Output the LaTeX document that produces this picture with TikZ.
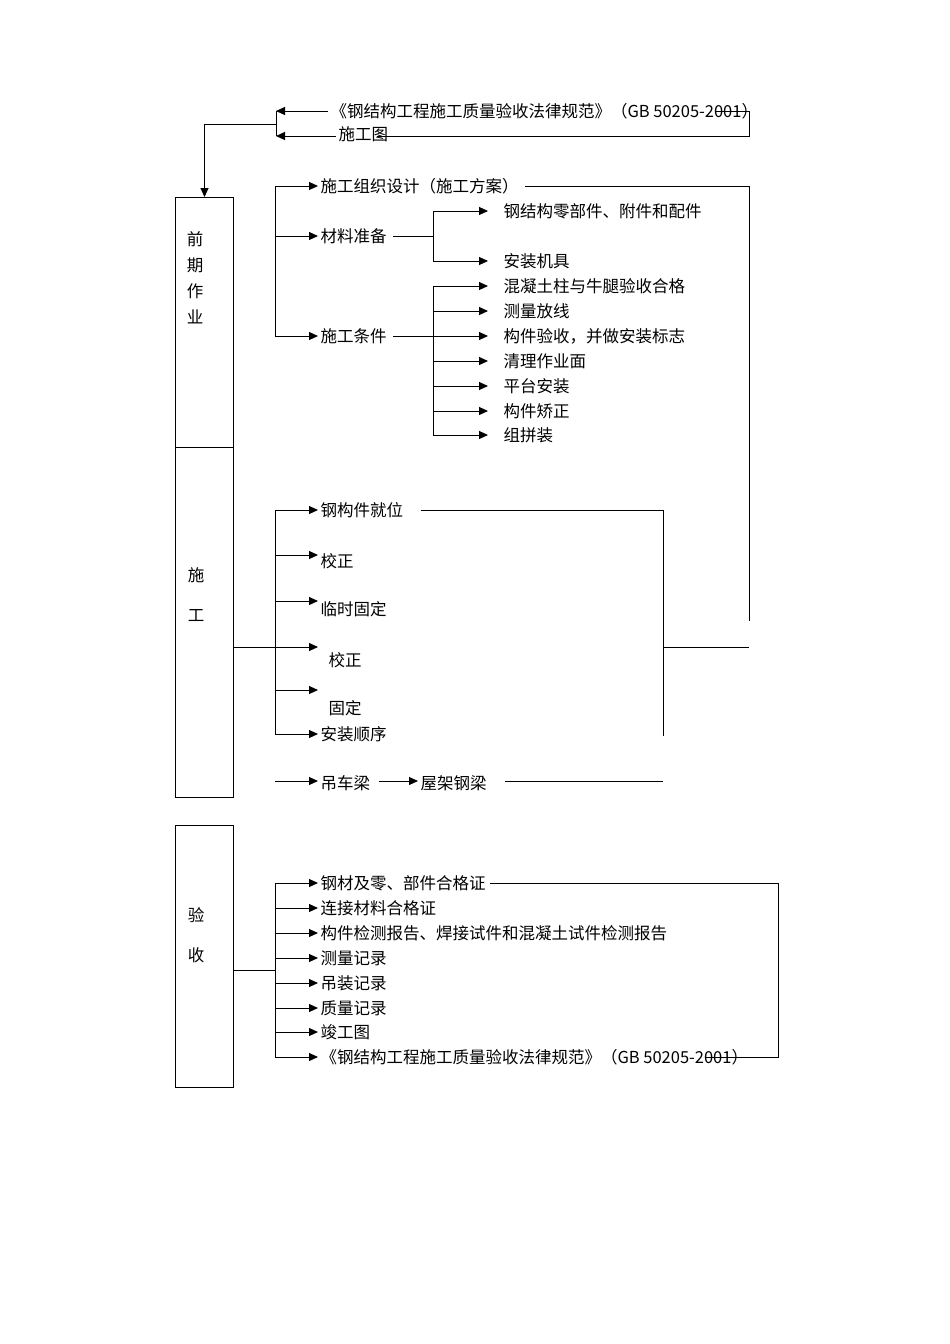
\documentclass[tikz,border=0pt]{standalone}
\usepackage{fontspec}
\setmainfont{Noto Sans CJK SC}
\usetikzlibrary{arrows.meta}

\begin{document}
\begin{tikzpicture}[
    x=1pt, y=-1pt,
    line width=1pt,
    every node/.style={font=\fontsize{16.5}{20}\selectfont, inner sep=0pt},
    item/.style={anchor=west, inner xsep=2pt},
    sub/.style={anchor=west, inner xsep=15pt},
    stage/.style={draw, anchor=north west, minimum width=58pt},
    vtext/.style={align=center, font=\fontsize{16.5}{26}\selectfont},
    arr/.style={-{Triangle[length=9pt,width=8pt]}}
    ]

    \useasboundingbox (0,0) rectangle (950,1344);

    \coordinate (busL) at (275,0);
    \coordinate (busM) at (433,0);
    \coordinate (rE) at (749,621);
    \coordinate (rB) at (663,736);
    \coordinate (busR) at (778,0);

    \node[stage, minimum height=250pt] (pre) at (175,197) {};
    \node[stage, minimum height=350pt] (work) at (175,447) {};
    \node[stage, minimum height=262pt] (acc) at (175,825) {};
    \node[vtext] (preT) at (195,278) {前\\期\\作\\业};
    \node[vtext, font=\fontsize{16.5}{40}\selectfont] (workT) at (196,595) {施\\工};
    \node[vtext, font=\fontsize{16.5}{40}\selectfont] (accT) at (196,935) {验\\收};

    \node[item] (std) at (328,111) {《钢结构工程施工质量验收法律规范》（GB 50205-2001）};
    \node[item] (dwg) at (336,134) {施工图};
    \coordinate (tipA) at (276,111);
    \coordinate (tipB) at (276,136);
    \coordinate (tipC) at (276,124);
    \draw[arr] (std.west) -- (tipA);
    \draw[arr] (dwg.west |- tipB) -- (tipB);
    \draw (tipA) -- (tipB);
    \draw[arr] (tipC) -| (pre.north);
    \draw ([xshift=-45pt]std.east) -| (749,136) -- ([xshift=-14pt]dwg.east |- tipB);

    \node[item] (org) at (318,186) {施工组织设计（施工方案）};
    \node[item] (mat) at (318,236) {材料准备};
    \node[item] (cond) at (318,336) {施工条件};
    \draw (org.west -| busL) -- (cond.west -| busL);
    \draw[arr] (org.west -| busL) -- (org.west);
    \draw[arr] (mat.west -| busL) -- (mat.west);
    \draw[arr] (cond.west -| busL) -- (cond.west);
    \draw ([xshift=4pt]org.east) -| (rE);

    \node[sub] (m1) at (488,211) {钢结构零部件、附件和配件};
    \node[sub] (m2) at (488,261) {安装机具};
    \draw ([xshift=4pt]mat.east) -- (mat.east -| busM);
    \draw (m1.west -| busM) -- (m2.west -| busM);
    \draw[arr] (m1.west -| busM) -- (m1.west);
    \draw[arr] (m2.west -| busM) -- (m2.west);

    \node[sub] (c1) at (488,286) {混凝土柱与牛腿验收合格};
    \node[sub] (c2) at (488,311) {测量放线};
    \node[sub] (c3) at (488,336) {构件验收，并做安装标志};
    \node[sub] (c4) at (488,361) {清理作业面};
    \node[sub] (c5) at (488,386) {平台安装};
    \node[sub] (c6) at (488,411) {构件矫正};
    \node[sub] (c7) at (488,435) {组拼装};
    \draw (c1.west -| busM) -- (c7.west -| busM);
    \draw[arr] ([xshift=4pt]cond.east) -- (c3.west);
    \draw[arr] (c1.west -| busM) -- (c1.west);
    \draw[arr] (c2.west -| busM) -- (c2.west);
    \draw[arr] (c4.west -| busM) -- (c4.west);
    \draw[arr] (c5.west -| busM) -- (c5.west);
    \draw[arr] (c6.west -| busM) -- (c6.west);
    \draw[arr] (c7.west -| busM) -- (c7.west);

    \coordinate (w2) at (318,555);
    \coordinate (w3) at (318,601);
    \coordinate (w4) at (318,647);
    \coordinate (w5) at (318,690);
    \node[item] (pos) at (318,510) {钢构件就位};
    \node[item] (chk1) at (318,561) {校正};
    \node[item] (tmp) at (318,609) {临时固定};
    \node[item] (chk2) at (326,660) {校正};
    \node[item] (fix) at (326,708) {固定};
    \node[item] (seq) at (318,734) {安装顺序};
    \draw (work.east |- w4) -- (w4 -| busL);
    \draw (pos.west -| busL) -- (seq.west -| busL);
    \draw[arr] (pos.west -| busL) -- (pos.west);
    \draw[arr] (w2 -| busL) -- (w2);
    \draw[arr] (w3 -| busL) -- (w3);
    \draw[arr] (w4 -| busL) -- (w4);
    \draw[arr] (w5 -| busL) -- (w5);
    \draw[arr] (seq.west -| busL) -- (seq.west);
    \draw ([xshift=15pt]pos.east) -| (rB);
    \draw (w4 -| rB) -- (w4 -| rE);

    \coordinate (w7) at (275,781);
    \node[item] (crane) at (318,783) {吊车梁};
    \node[item] (roof) at (418,783) {屋架钢梁};
    \draw[arr] (w7) -- (w7 -| crane.west);
    \draw[arr, shorten <=6pt] (crane.east |- w7) -- (w7 -| roof.west);
    \draw ([xshift=16pt]roof.east |- w7) -- (w7 -| rB);

    \coordinate (w8) at (275,970);
    \node[item] (a1) at (318,883) {钢材及零、部件合格证};
    \node[item] (a2) at (318,908) {连接材料合格证};
    \node[item] (a3) at (318,933) {构件检测报告、焊接试件和混凝土试件检测报告};
    \node[item] (a4) at (318,958) {测量记录};
    \node[item] (a5) at (318,983) {吊装记录};
    \node[item] (a6) at (318,1008) {质量记录};
    \node[item] (a7) at (318,1032) {竣工图};
    \node[item] (a8) at (318,1057) {《钢结构工程施工质量验收法律规范》（GB 50205-2001）};
    \draw (acc.east |- w8) -- (w8);
    \draw (a1.west -| busL) -- (a8.west -| busL);
    \draw[arr] (a1.west -| busL) -- (a1.west);
    \draw[arr] (a2.west -| busL) -- (a2.west);
    \draw[arr] (a3.west -| busL) -- (a3.west);
    \draw[arr] (a4.west -| busL) -- (a4.west);
    \draw[arr] (a5.west -| busL) -- (a5.west);
    \draw[arr] (a6.west -| busL) -- (a6.west);
    \draw[arr] (a7.west -| busL) -- (a7.west);
    \draw[arr] (a8.west -| busL) -- (a8.west);
    \draw ([xshift=2pt]a1.east) -| (a8.west -| busR) -- ([xshift=-45pt]a8.east);

\end{tikzpicture}
\end{document}
